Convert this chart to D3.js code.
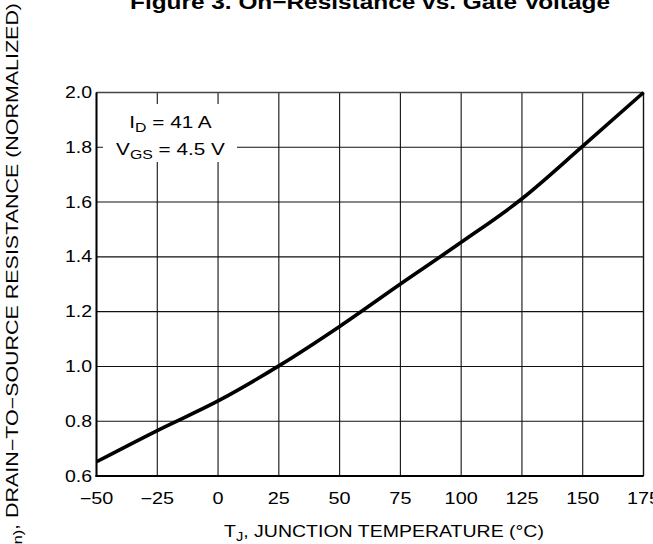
<!DOCTYPE html>
<html>
<head>
<meta charset="utf-8">
<script src="https://cdn.jsdelivr.net/npm/d3@7"></script>
<style>
  html, body { margin: 0; padding: 0; background: #fff; overflow: hidden; }
  svg { display: block; font-family: "Liberation Sans", Arial, Helvetica, sans-serif; }
</style>
</head>
<body>
<svg id="chart" width="653" height="544"></svg>
<script>
// Data
const temperatures = [-50, -25, 0, 25, 50, 75, 100, 125, 150, 175];
const resistance   = [0.652, 0.766, 0.874, 1.002, 1.146, 1.301, 1.453, 1.612, 1.804, 2.0];
const xTicks = [-50, -25, 0, 25, 50, 75, 100, 125, 150, 175];
const yTicks = [0.6, 0.8, 1.0, 1.2, 1.4, 1.6, 1.8, 2.0];
const titleText = "Figure 3. On\u2212Resistance vs. Gate Voltage";
const xLabel = ["T", "J", ", JUNCTION TEMPERATURE (\u00B0C)"];
const yLabel = ["R", "DS(on)", ", DRAIN\u2212TO\u2212SOURCE RESISTANCE (NORMALIZED)"];
const legendLines = [["I", "D", " = 41 A"], ["V", "GS", " = 4.5 V"]];

const svg = d3.select("#chart");
const L = 96.5, R = 643.5, T = 92.5, B = 476;
const SX = 1.22; // the reference typeface is horizontally wide

const x = d3.scaleLinear().domain([-50, 175]).range([L, R]);
const y = d3.scaleLinear().domain([0.6, 2.0]).range([B, T]);

function wideText(transform, anchor, size, sx) {
  return svg.append("g").attr("transform", transform + " scale(" + sx + ",1)")
    .append("text").attr("x", 0).attr("y", 0)
    .attr("text-anchor", anchor).attr("font-size", size).attr("fill", "#000");
}
function subText(t, parts, subSize, shift) {
  t.append("tspan").text(parts[0]);
  t.append("tspan").attr("font-size", subSize).attr("dy", shift).text(parts[1]);
  t.append("tspan").attr("dy", -shift).text(parts[2]);
}

// Grid
const grid = svg.append("g");
grid.selectAll("line.v").data(xTicks).join("line")
  .attr("x1", d => x(d)).attr("x2", d => x(d))
  .attr("y1", T).attr("y2", B)
  .attr("stroke", "#111").attr("stroke-width", 1.1);
grid.selectAll("line.h").data(yTicks).join("line")
  .attr("x1", L).attr("x2", R)
  .attr("y1", d => y(d)).attr("y2", d => y(d))
  .attr("stroke", "#111").attr("stroke-width", 1.1);

// Frame
svg.append("line").attr("x1", L).attr("x2", R).attr("y1", T).attr("y2", T)
  .attr("stroke", "#444").attr("stroke-width", 1.6);
svg.append("line").attr("x1", R).attr("x2", R).attr("y1", T).attr("y2", B)
  .attr("stroke", "#111").attr("stroke-width", 1.3);
svg.append("line").attr("x1", L).attr("x2", L).attr("y1", T).attr("y2", B + 1)
  .attr("stroke", "#000").attr("stroke-width", 2);
svg.append("line").attr("x1", L - 1).attr("x2", R).attr("y1", B).attr("y2", B)
  .attr("stroke", "#000").attr("stroke-width", 2);

// Legend box (white background over grid)
svg.append("rect").attr("x", 103).attr("y", 104).attr("width", 134).attr("height", 58)
  .attr("fill", "#fff");
const legBase = [128, 155];
legendLines.forEach((ln, i) => {
  const t = wideText("translate(170.5," + legBase[i] + ")", "middle", 17, SX);
  subText(t, ln, 13, 4);
});

// Curve
const pts = temperatures.map((t, i) => [t, resistance[i]]);
const line = d3.line().x(d => x(d[0])).y(d => y(d[1])).curve(d3.curveMonotoneX);
svg.append("path").datum(pts).attr("d", line)
  .attr("fill", "none").attr("stroke", "#000").attr("stroke-width", 3.6)
  .attr("stroke-linecap", "butt");

// Tick labels
xTicks.forEach(d => {
  wideText("translate(" + x(d) + ",504)", "middle", 16, 1.24)
    .text(d < 0 ? "\u2212" + Math.abs(d) : String(d));
});
yTicks.forEach(d => {
  wideText("translate(92," + (y(d) + 5.5) + ")", "end", 16, SX)
    .text(d.toFixed(1));
});

// X axis title
const xt = wideText("translate(384,537)", "middle", 16, SX);
subText(xt, xLabel, 12, 4);

// Y axis title (rotated)
const yt = wideText("translate(18,3) rotate(-90)", "end", 16.5, 1.30);
subText(yt, yLabel, 12.5, 4);

// Title (clipped at top in reference)
wideText("translate(" + ((L + R) / 2) + ",9)", "middle", 20, SX)
  .attr("font-weight", "bold").text(titleText);
</script>
</body>
</html>
